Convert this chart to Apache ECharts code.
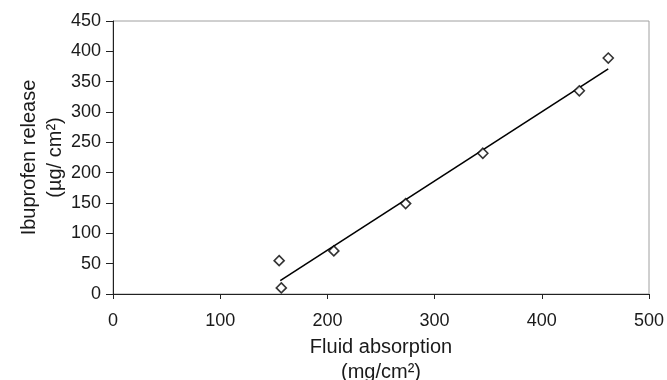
<!DOCTYPE html>
<html>
<head>
<meta charset="utf-8">
<script src="https://cdn.jsdelivr.net/npm/echarts@6/dist/echarts.min.js"></script>
<style>
  html, body { margin: 0; padding: 0; background: #fff; }
  #chart { width: 667px; height: 380px; }
</style>
</head>
<body>
<div id="chart"></div>
<script>
// measured points: fluid absorption (mg/cm²) vs ibuprofen release (µg/cm²)
var absorption = [155, 157, 206, 273, 345, 435, 462];
var release = [55, 10, 71, 149, 232, 335, 389];

// trend line end points
var trendX = [156, 462];
var trendY = [22, 371];

var fontFamily = "Liberation Sans, Arial, sans-serif";

var chart = echarts.init(document.getElementById("chart"), null, { renderer: "canvas" });

chart.setOption({
  animation: false,
  backgroundColor: "#fff",
  grid: {
    left: 113,
    right: 18,
    top: 21,
    bottom: 86,
    outerBoundsMode: "none",
    show: true,
    borderColor: "#a0a0a0",
    borderWidth: 1,
  },
  xAxis: {
    type: "value",
    min: 0,
    max: 500,
    interval: 100,
    name: "Fluid absorption\n(mg/cm²)",
    nameLocation: "middle",
    nameGap: 41,
    nameMoveOverlap: false,
    nameTextStyle: {
      color: "#1a1a1a",
      fontFamily: fontFamily,
      fontSize: 20,
      lineHeight: 25,
    },
    axisLine: { show: true, lineStyle: { color: "#222", width: 1 } },
    axisTick: { show: true, length: 5, lineStyle: { color: "#222" } },
    axisLabel: {
      color: "#1a1a1a",
      fontFamily: fontFamily,
      fontSize: 18,
      margin: 18,
    },
    splitLine: { show: false },
  },
  yAxis: {
    type: "value",
    min: 0,
    max: 450,
    interval: 50,
    name: "Ibuprofen release\n(µg/ cm²)",
    nameLocation: "middle",
    nameGap: 45,
    nameMoveOverlap: false,
    nameTextStyle: {
      color: "#1a1a1a",
      fontFamily: fontFamily,
      fontSize: 20,
      lineHeight: 26,
    },
    axisLine: { show: true, lineStyle: { color: "#222", width: 1 } },
    axisTick: { show: true, length: 7, lineStyle: { color: "#222" } },
    axisLabel: {
      color: "#1a1a1a",
      fontFamily: fontFamily,
      fontSize: 18,
      margin: 12,
    },
    splitLine: { show: false },
  },
  series: [
    {
      name: "trend",
      type: "line",
      data: trendX.map(function (x, i) {
        return [x, trendY[i]];
      }),
      symbol: "none",
      lineStyle: { color: "#000", width: 1.6 },
      z: 2,
    },
    {
      name: "release",
      type: "scatter",
      data: absorption.map(function (x, i) {
        return [x, release[i]];
      }),
      symbol: "diamond",
      symbolSize: 10,
      itemStyle: {
        color: "#fff",
        borderColor: "#000",
        borderWidth: 1.6,
      },
      z: 3,
    },
  ],
});
</script>
</body>
</html>
